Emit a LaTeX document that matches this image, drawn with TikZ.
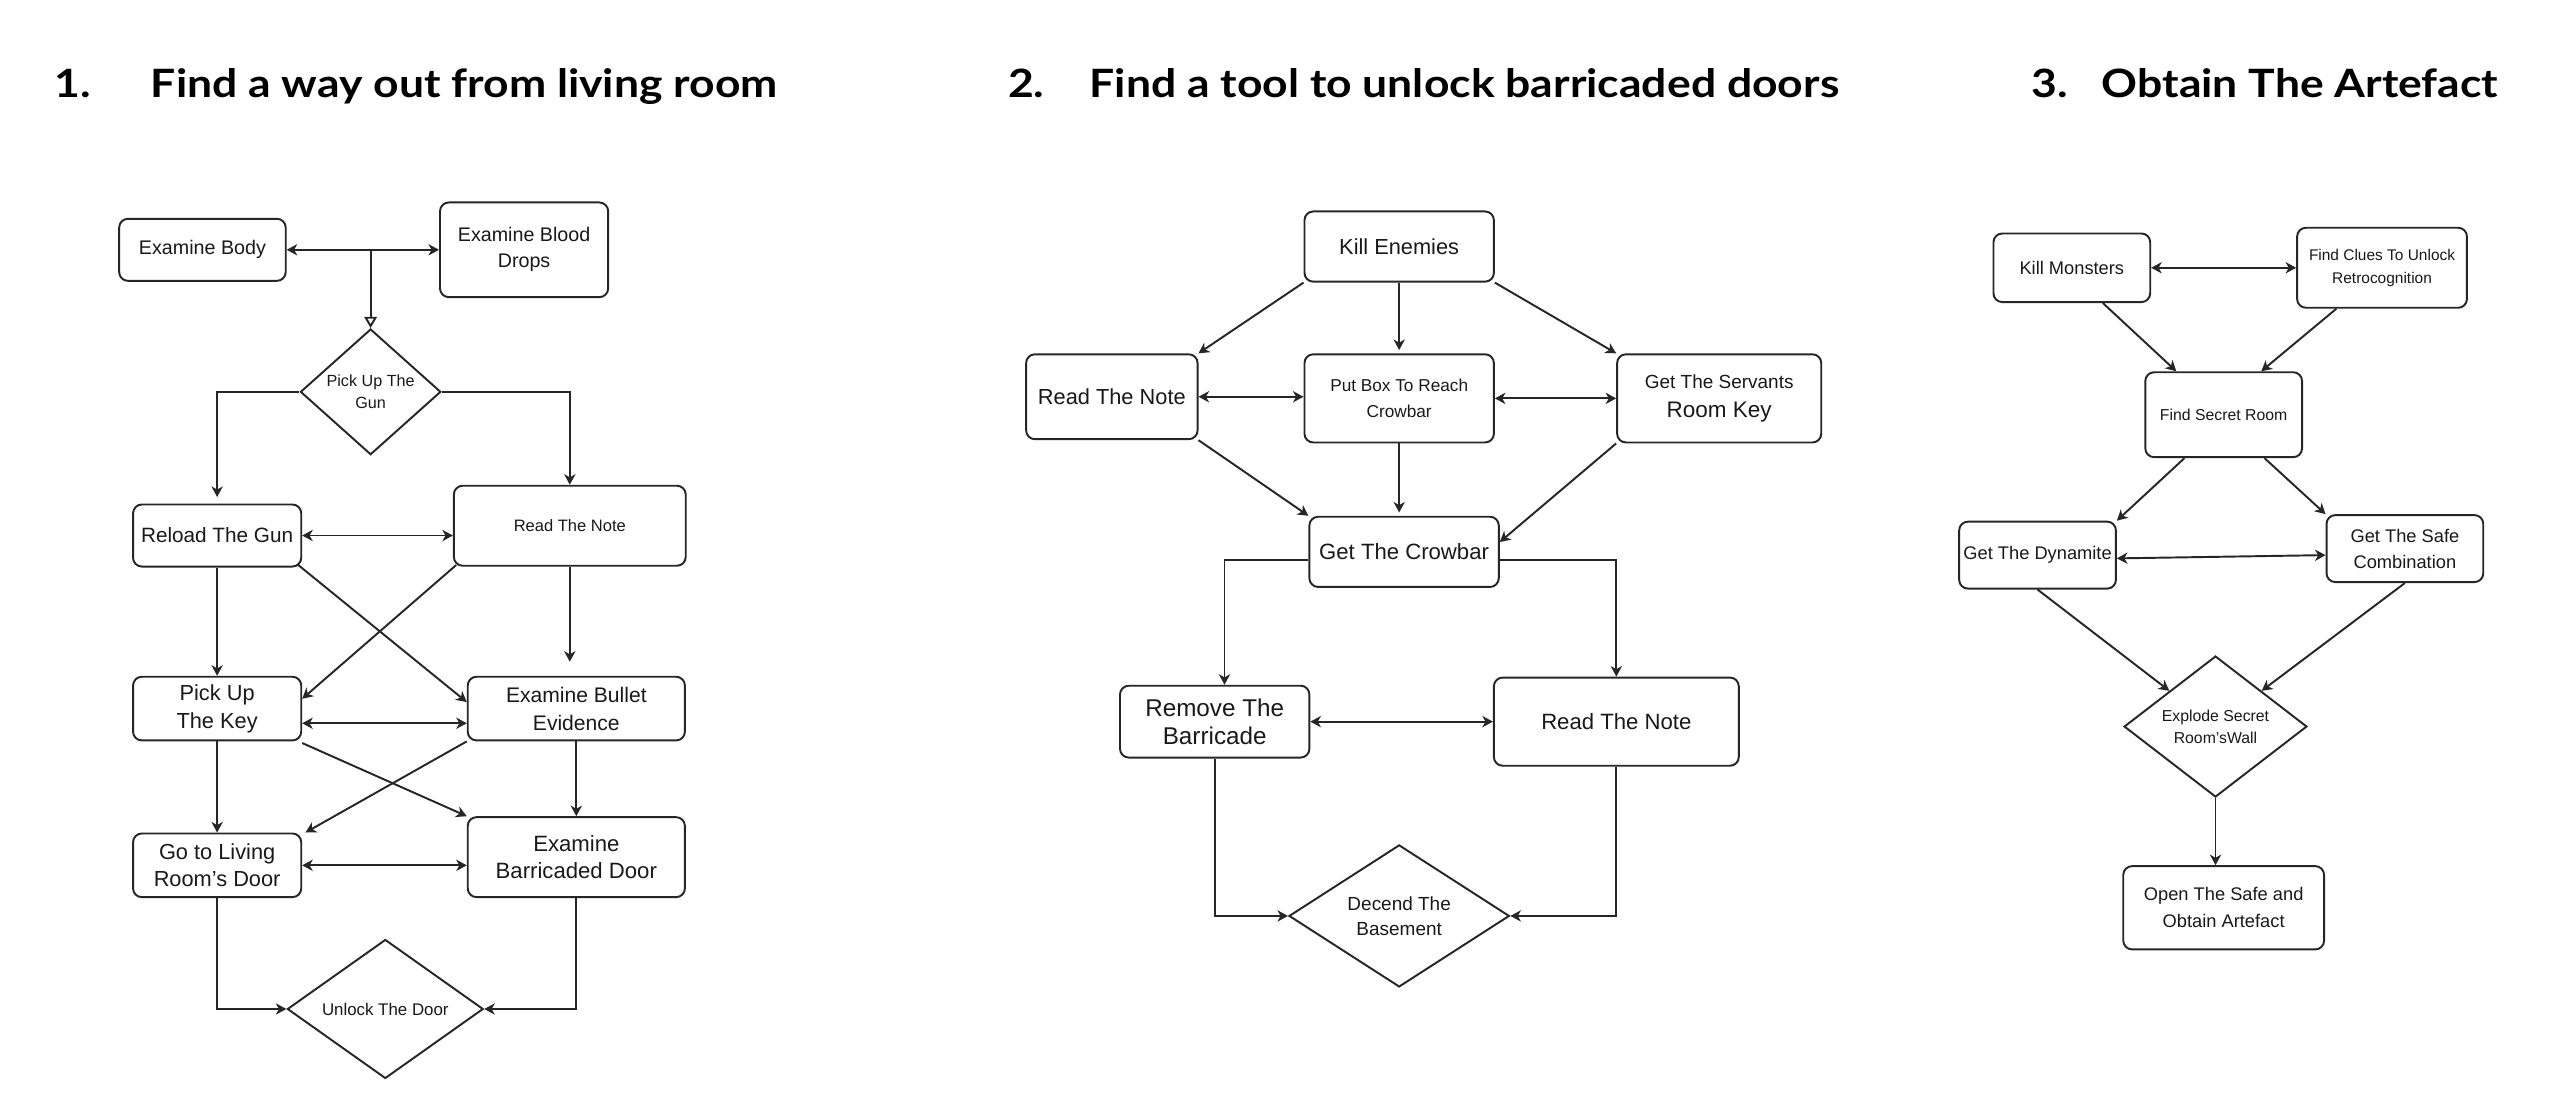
\documentclass[tikz,border=0pt]{standalone}
\usepackage{fontspec}
\setmainfont{Liberation Sans}
\newfontfamily\titlefont[FakeStretch=1.14]{Lato}
\usetikzlibrary{shapes.geometric,arrows.meta,calc}
\newcommand\fz[2]{\fontsize{#1pt}{#2pt}\selectfont}
\tikzset{
 box/.style={draw=black!85, line width=0.55pt, rounded corners=2.5pt, inner sep=0pt, align=center, text=black!90},
 dia/.style={draw=black!85, line width=0.55pt, diamond, inner sep=0pt, align=center, text=black!90},
 wh/.style 2 args={minimum width=#1*0.46455pt, minimum height=#2*0.46455pt},
 ln/.style={line width=0.55pt, draw=black!85},
 arr/.style={ln, -{Stealth[length=3pt,width=3.2pt,inset=0.9pt]}},
 darr/.style={ln, {Stealth[length=3pt,width=3.2pt,inset=0.9pt]}-{Stealth[length=3pt,width=3.2pt,inset=0.9pt]}},
 oarr/.style={ln, -{Triangle[open,length=3.2pt,width=3.6pt]}},
 ttl/.style={anchor=base west, inner sep=0pt, font=\titlefont\bfseries\fz{11.1}{13}},
}
\begin{document}
\begin{tikzpicture}[x=0.016327cm, y=-0.016327cm]
\fill[white] (0,0) rectangle (1568,673);
\useasboundingbox (0,0) rectangle (1568,673);

% titles
\node[ttl] (n1) at (33,60) {1.};
\node[ttl] (t1) at (92,60) {Find a way out from living room};
\node[ttl] (n2) at (617,60) {2.};
\node[ttl] (t2) at (667,60) {Find a tool to unlock barricaded doors};
\node[ttl] (n3) at (1244,60) {3.};
\node[ttl] (t3) at (1287,60) {Obtain The Artefact};

% ---------- diagram 1 ----------
\node[box, wh={102}{38}, font=\fz{5.6}{7}] (eb) at (124,153) {Examine Body};
\node[box, wh={103}{58}, font=\fz{5.6}{7.4}] (ebd) at (321,153) {Examine Blood\\Drops};
\node[dia, wh={86}{77}, font=\fz{4.6}{6.2}] (pg) at (227,240) {Pick Up The\\Gun};
\node[box, wh={103}{38}, font=\fz{5.9}{7}] (rg) at (133,328) {Reload The Gun};
\node[box, wh={142}{49}, font=\fz{4.7}{6}] (rn) at (349,322) {Read The Note};
\node[box, wh={103}{39}, font=\fz{6.2}{7.9}] (pk) at (133,434) {Pick Up\\The Key};
\node[box, wh={133}{39}, font=\fz{6.0}{7.9}] (eb2) at (353,434) {Examine Bullet\\Evidence};
\node[box, wh={103}{39}, font=\fz{6.2}{7.9}] (gl) at (133,530) {Go to Living\\Room’s Door};
\node[box, wh={133}{49}, font=\fz{6.3}{7.9}] (ebd2) at (353,525) {Examine\\Barricaded Door};
\node[dia, wh={120}{77}, font=\fz{4.8}{6}] (ud) at (236,618) {Unlock The Door};

\draw[darr] (eb.east) -- (ebd.west);
\coordinate (j1) at (227,153);
\draw[oarr] (j1) -- (pg.north);
\draw[arr] (pg.west) -| ($(rg.north)+(0,-4)$);
\draw[arr] (pg.east) -| (rn.north);
\draw[darr] (rg.east) -- (rg.east -| rn.west);
\draw[arr] (rg.south) -- (pk.north);
\draw[arr, shorten >=4pt] (rn.south) -- (rn.south |- eb2.north);
\draw[arr] ($(rg.south east)+(-3,-2)$) -- ($(eb2.west)+(0,-4)$);
\draw[arr] ($(rn.south west)+(2,-1)$) -- ($(pk.east)+(0,-6)$);
\draw[darr] ($(pk.east)+(0,9)$) -- ($(eb2.west)+(0,9)$);
\draw[arr] (pk.south) -- (gl.north);
\draw[arr] (eb2.south) -- (ebd2.north);
\draw[arr] ($(pk.south east)+(0,1)$) -- (ebd2.north west);
\draw[arr] (eb2.south west) -- ($(gl.north east)+(2,0)$);
\draw[darr] (gl.east) -- (gl.east -| ebd2.west);
\draw[arr] (gl.south) |- (ud.west);
\draw[arr] (ebd2.south) |- (ud.east);

% ---------- diagram 2 ----------
\node[box, wh={116}{43}, font=\fz{6.2}{7.5}] (ke) at (857,151) {Kill Enemies};
\node[box, wh={105}{52}, font=\fz{6.2}{7.5}] (rn2) at (681,243) {Read The Note};
\node[box, wh={116}{54}, font=\fz{4.9}{7.4}] (pb) at (857,244) {Put Box To Reach\\Crowbar};
\node[box, wh={125}{54}, font=\fz{5.4}{8.4}] (sk) at (1053,244) {Get The Servants\\\fz{6.4}{8.4}Room Key};
\node[box, wh={116}{43}, font=\fz{6.3}{7.5}] (gc) at (860,338) {Get The Crowbar};
\node[box, wh={116}{44}, font=\fz{6.9}{8}] (rb) at (744,442) {Remove The\\Barricade};
\node[box, wh={150}{54}, font=\fz{6.3}{7.5}] (rn3) at (990,442) {Read The Note};
\node[dia, wh={135}{87}, font=\fz{5.4}{7}] (db) at (857,561) {Decend The\\Basement};

\draw[arr] (ke.south west) -- (rn2.north east);
\draw[arr] (ke.south) -- ($(pb.north)+(0,-2)$);
\draw[arr] (ke.south east) -- (sk.north west);
\draw[darr] (rn2.east) -- (rn2.east -| pb.west);
\draw[darr] (pb.east) -- (pb.east -| sk.west);
\draw[arr] (rn2.south east) -- (gc.north west);
\draw[arr] (pb.south) -- ($(pb.south |- gc.north)+(0,-2)$);
\draw[arr] (sk.south west) -- ($(gc.east)+(0,-6)$);
\draw[arr] ($(gc.west)+(0,5)$) -| ($(rb.north)+(6,0)$);
\draw[arr] ($(gc.east)+(0,5)$) -| (rn3.north);
\draw[darr] (rb.east) -- (rb.east -| rn3.west);
\draw[arr] (rb.south) |- (db.west);
\draw[arr] (rn3.south) |- (db.east);

% ---------- diagram 3 ----------
\node[box, wh={96}{42}, font=\fz{5.2}{7}] (km) at (1269,164) {Kill Monsters};
\node[box, wh={104}{49}, font=\fz{4.4}{6.4}] (fc) at (1459,164) {Find Clues To Unlock\\Retrocognition};
\node[box, wh={96}{52}, font=\fz{4.5}{6}] (fs) at (1362,254) {Find Secret Room};
\node[box, wh={96}{41}, font=\fz{5.2}{7}] (gd) at (1248,340) {Get The Dynamite};
\node[box, wh={96}{41}, font=\fz{5.2}{7.4}] (gsc) at (1473,336) {Get The Safe\\Combination};
\node[dia, wh={112}{83}, font=\fz{4.5}{6.3}] (ex) at (1357,445) {Explode Secret\\Room'sWall};
\node[box, wh={123}{51}, font=\fz{5.2}{7.6}] (os) at (1362,556) {Open The Safe and\\Obtain Artefact};

\draw[darr] (km.east) -- (km.east -| fc.west);
\draw[arr] ($(km.south)+(19,0)$) -- ($(fs.north)+(-29,0)$);
\draw[arr] ($(fc.south)+(-28,0)$) -- ($(fs.north)+(23,0)$);
\draw[arr] ($(fs.south)+(-24,0)$) -- (gd.north east);
\draw[arr] ($(fs.south)+(25,0)$) -- (gsc.north west);
\draw[darr] ($(gd.east)+(0,2)$) -- ($(gsc.west)+(0,4)$);
\draw[arr] (gd.south) -- (ex.north west);
\draw[arr] (gsc.south) -- (ex.north east);
\draw[arr] (ex.south) -- (ex.south |- os.north);
\end{tikzpicture}
\end{document}
